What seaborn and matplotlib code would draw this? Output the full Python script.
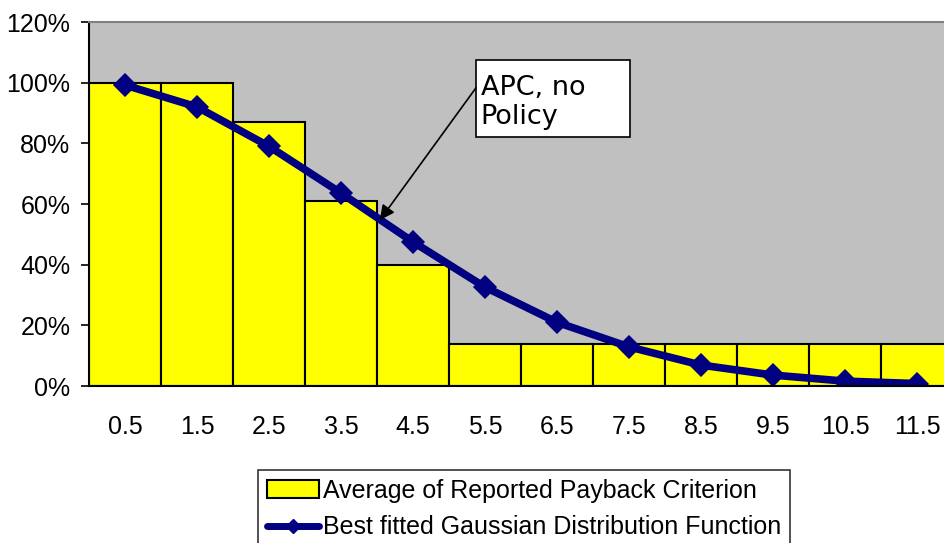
import matplotlib
matplotlib.use("Agg")
import matplotlib.pyplot as plt
import numpy as np
import pandas as pd
import seaborn as sns
from matplotlib.lines import Line2D
from matplotlib.patches import Patch, Rectangle
from matplotlib.ticker import PercentFormatter

# 데이터
categories = ["0.5", "1.5", "2.5", "3.5", "4.5", "5.5", "6.5", "7.5", "8.5", "9.5", "10.5", "11.5"]
payback_avg = [100, 100, 87, 61, 40, 14, 14, 14, 14, 14, 14, 14]
gaussian_fit = [99.2, 92, 79, 63.6, 47.5, 32.6, 21, 12.9, 6.9, 3.6, 1.6, 0.8]

bar_label = "Average of Reported Payback Criterion"
line_label = "Best fitted Gaussian Distribution Function"

df = pd.DataFrame({"year": categories, "avg": payback_avg, "fit": gaussian_fit})

sns.set_style("white")
plt.rcParams["font.family"] = ["Liberation Sans", "DejaVu Sans"]
plt.rcParams["text.color"] = "black"
plt.rcParams["xtick.color"] = "black"
plt.rcParams["ytick.color"] = "black"

fig = plt.figure(figsize=(9.44, 5.43), dpi=100)
ax = fig.add_axes([89 / 944, 157 / 543, 864 / 944, 364 / 543])
ax.set_facecolor("#C0C0C0")

sns.barplot(data=df, x="year", y="avg", order=categories, color="#FFFF00",
            saturation=1, width=1, edgecolor="black", linewidth=1.5, ax=ax)
sns.pointplot(data=df, x="year", y="fit", order=categories, color="#000080",
              markers="D", linestyles="-", linewidth=5.5, markersize=8, ax=ax)

ax.set_xlim(-0.5, len(categories) - 0.5)
ax.set_ylim(0, 120)
ax.set_yticks(np.arange(0, 121, 20))
ax.yaxis.set_major_formatter(PercentFormatter(decimals=0))
ax.set_xlabel("")
ax.set_ylabel("")

# x 눈금: 막대 경계에 눈금선, 가운데에 라벨
ax.set_xticks(np.arange(len(categories)))
ax.set_xticklabels(categories)
ax.set_xticks(np.arange(-0.5, len(categories)), minor=True)
ax.tick_params(axis="x", which="major", length=0, pad=21, labelsize=18, labelcolor="black")
ax.tick_params(axis="x", which="minor", length=5.5, width=1.2, color="black", direction="out")
ax.tick_params(axis="y", length=5.5, width=1.2, color="black", direction="out",
               left=True, pad=8, labelsize=18, labelcolor="black")

for side in ["left", "bottom"]:
    ax.spines[side].set_color("black")
    ax.spines[side].set_linewidth(1.5)
ax.spines["top"].set_color("#808080")
ax.spines["top"].set_linewidth(1.5)
ax.spines["right"].set_visible(False)

# 주석 상자
ax.add_patch(Rectangle((4.875, 82.1), 2.14, 25.4, facecolor="white",
                       edgecolor="black", linewidth=1.2, zorder=9))
ax.text(4.94, 93.6, "APC, no\nPolicy", fontsize=19.5, family="DejaVu Sans",
        color="black", ha="left", va="center", linespacing=1.15, zorder=10)
ax.annotate("", xy=(3.54, 54.7), xytext=(4.875, 98.3),
            arrowprops=dict(arrowstyle="-|>", color="black", lw=1.2,
                            mutation_scale=22, shrinkA=0, shrinkB=0),
            zorder=10)

handles = [
    Patch(facecolor="#FFFF00", edgecolor="black", linewidth=1.5, label=bar_label),
    Line2D([], [], color="#000080", linewidth=5, marker="D", markersize=7, label=line_label),
]
leg = fig.legend(handles=handles, loc="upper left", bbox_to_anchor=(258 / 944, 1 - 470 / 543),
                 fontsize=18, frameon=True, fancybox=False, handlelength=2.1,
                 handletextpad=0.15, labelspacing=0.5, borderpad=0.35,
                 borderaxespad=0, labelcolor="black")
leg.get_frame().set_edgecolor("black")
leg.get_frame().set_linewidth(1.2)

fig.savefig("out.png", dpi=100)
